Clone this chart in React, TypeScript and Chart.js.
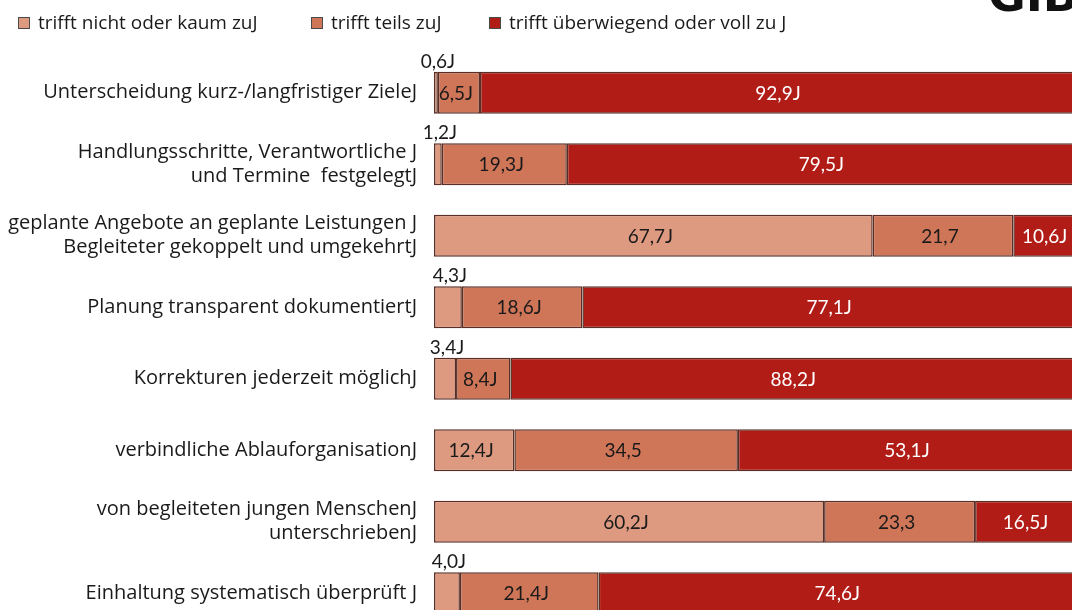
import React, { useEffect, useRef } from "react";
import { Chart, registerables } from "chart.js";

Chart.register(...registerables);

const categories: (string | string[])[] = [
  "Unterscheidung kurz-/langfristiger ZieleJ",
  ["Handlungsschritte, Verantwortliche J", "und Termine  festgelegtJ"],
  ["geplante Angebote an geplante Leistungen J", "Begleiteter gekoppelt und umgekehrtJ"],
  "Planung transparent dokumentiertJ",
  "Korrekturen jederzeit möglichJ",
  "verbindliche AblauforganisationJ",
  ["von begleiteten jungen MenschenJ", "unterschriebenJ"],
  "Einhaltung systematisch überprüft J",
];

const seriesNames = ["trifft nicht oder kaum zuJ", "trifft teils zuJ", "trifft überwiegend oder voll zu J"];

const nichtValues = [0.6, 1.2, 67.7, 4.3, 3.4, 12.4, 60.2, 4.0];
const teilsValues = [6.5, 19.3, 21.7, 18.6, 8.4, 34.5, 23.3, 21.4];
const vollValues = [92.9, 79.5, 10.6, 77.1, 88.2, 53.1, 16.5, 74.6];

const nichtSuffix = ["J", "J", "J", "J", "J", "J", "J", "J"];
const teilsSuffix = ["J", "J", "", "J", "J", "", "", "J"];
const vollSuffix = ["J", "J", "J", "J", "J", "J", "J", "J"];

const colors = ["#DE9A81", "#CF7558", "#B21C17"];
const textColors = ["#1a1a1a", "#1a1a1a", "#ffffff"];
const FONT = '"Open Sans"';
const NUMFONT = "Lato";

const suffixes = [nichtSuffix, teilsSuffix, vollSuffix];

const fmt = (v: number) => v.toFixed(1).replace(".", ",");

const labelPlugin = {
  id: "segLabels",
  afterDatasetsDraw(chart: any) {
    const ctx = chart.ctx;
    ctx.save();
    ctx.font = `19px ${NUMFONT}`;
    ctx.textAlign = "center";
    ctx.textBaseline = "middle";
    chart.data.datasets.forEach((ds: any, di: number) => {
      const meta = chart.getDatasetMeta(di);
      meta.data.forEach((bar: any, i: number) => {
        const v = ds.data[i];
        const txt = fmt(v) + suffixes[di][i];
        const left = Math.min(bar.x, bar.base);
        const right = Math.max(bar.x, bar.base);
        const cx = (left + right) / 2;
        const top = bar.y - bar.height / 2;
        if (v < 5) {
          ctx.fillStyle = "#1a1a1a";
          ctx.fillText(txt, cx + 2, top - 10);
        } else {
          ctx.fillStyle = textColors[di];
          ctx.fillText(txt, cx - 3, bar.y + 1);
        }
      });
    });
    ctx.restore();
  },
  afterDraw(chart: any) {
    const ctx = chart.ctx;
    ctx.save();
    const xs = [18, 311, 489];
    ctx.font = `19px ${FONT}`;
    ctx.textBaseline = "middle";
    ctx.textAlign = "left";
    seriesNames.forEach((name, i) => {
      ctx.fillStyle = colors[i];
      ctx.fillRect(xs[i], 17, 12, 12);
      ctx.strokeStyle = "#4a4a4a";
      ctx.lineWidth = 1;
      ctx.strokeRect(xs[i] + 0.5, 17.5, 11, 11);
      ctx.fillStyle = "#1a1a1a";
      ctx.fillText(name, xs[i] + 20, 23.5);
    });
    ctx.fillStyle = "#111";
    ctx.font = `bold 46px "DejaVu Sans"`;
    ctx.textBaseline = "alphabetic";
    ctx.fillText("GIB", 988, 11);
    ctx.restore();
  },
};

export default function App() {
  const ref = useRef<HTMLCanvasElement>(null);
  useEffect(() => {
    if (!ref.current) return;
    const mk = (data: number[], i: number) => ({
      label: seriesNames[i],
      data,
      backgroundColor: colors[i],
      borderColor: "#5a2e24",
      borderWidth: 1.5,
      borderSkipped: false,
      barPercentage: 0.59,
      categoryPercentage: 1,
    });
    const chart = new Chart(ref.current, {
      type: "bar",
      data: {
        labels: categories,
        datasets: [mk(nichtValues, 0), mk(teilsValues, 1), mk(vollValues, 2)],
      },
      options: {
        indexAxis: "y",
        animation: false,
        responsive: false,
        devicePixelRatio: 1,
        layout: { padding: { top: 57, bottom: 11, right: 8, left: 0 } },
        plugins: { legend: { display: false }, tooltip: { enabled: false } },
        scales: {
          x: { stacked: true, min: 0, max: 100, display: false },
          y: {
            stacked: true,
            grid: { display: false, drawTicks: false },
            border: { display: false },
            ticks: {
              padding: 17,
              color: "#1a1a1a",
              font: { family: "Open Sans", size: 20, lineHeight: 1.2 },
            },
            afterFit: (scale: any) => {
              scale.width = 434;
              scale.paddingTop = 0;
              scale.paddingBottom = 0;
            },
          },
        },
      },
      plugins: [labelPlugin],
    });
    return () => chart.destroy();
  }, []);
  return (
    <div style={{ position: "fixed", left: 0, top: 0, width: 1072, height: 610, overflow: "hidden", background: "#fff" }}>
      <canvas ref={ref} width={1090} height={640} style={{ width: 1090, height: 640, display: "block" }} />
    </div>
  );
}
